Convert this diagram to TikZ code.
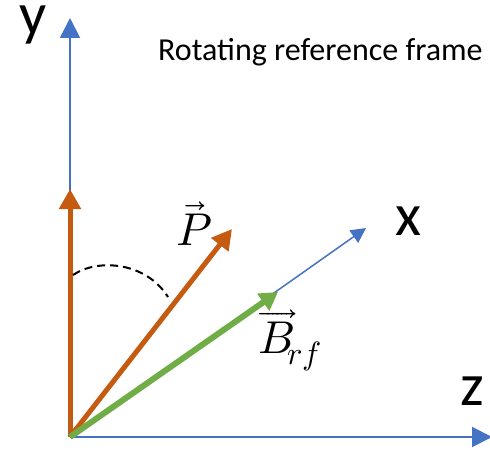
\documentclass[tikz,border=0pt]{standalone}
\usepackage{fontspec}
\usepackage{unicode-math}
\setmainfont{Carlito}
\setmathfont{Latin Modern Math}
\usetikzlibrary{arrows.meta}
\definecolor{axisblue}{RGB}{68,114,196}
\definecolor{vecorange}{RGB}{197,90,17}
\definecolor{vecgreen}{RGB}{112,173,71}
\begin{document}
\begin{tikzpicture}[x=1pt,y=1pt,
  axis/.style={draw=axisblue, line width=2pt, -{Triangle[length=20pt,width=20pt]}, color=axisblue},
  xaxis/.style={draw=axisblue, line width=1.5pt, -{Triangle[length=15pt,width=15pt]}, color=axisblue},
  orangevec/.style={draw=vecorange, line width=5pt, -{Triangle[length=20pt,width=21pt]}, color=vecorange},
  greenvec/.style={draw=vecgreen, line width=6pt, -{Triangle[length=18pt,width=20pt]}, color=vecgreen},
  axislabel/.style={font=\fontsize{60}{62}\selectfont, text=black, inner sep=0pt, text height=0.47em, text depth=0.22em},
  veclabel/.style={font=\fontsize{46}{48}\selectfont, text=black, inner sep=0pt},
  anglearc/.style={draw=black, line width=2pt, dash pattern=on 8pt off 5pt}]
\useasboundingbox (0,0) rectangle (490,451);
\coordinate (O) at (70,14);
\coordinate (ytip) at (70,433);
\coordinate (ztip) at (492,14);
\coordinate (xtip) at (366,223);
\coordinate (vtip) at (70,262);
\coordinate (ptip) at (232,222);
\coordinate (btip) at (278,159);
\coordinate (arcA) at (73,176);
\coordinate (arcB) at (168,154);
\draw[axis] (O) -- (ytip);
\draw[axis] (O) -- (ztip);
\draw[xaxis] (O) -- (xtip);
\draw[orangevec] (O) -- (vtip);
\draw[orangevec] (O) -- (ptip);
\draw[greenvec] (O) -- (btip);
\draw[anglearc] (arcA) .. controls (98,193) and (146,189) .. (arcB);
\node[axislabel, anchor=base] (ylab) at (33,416) {y};
\node[axislabel, anchor=base] (xlab) at (408,216) {x};
\node[axislabel, anchor=base] (zlab) at (472,46) {z};
\node[veclabel, anchor=base west] (plab) at (176,206) {$\vec{P}$};
\node[veclabel, anchor=base west] (blab) at (258,98) {$\overrightarrow{B}_{\!rf}$};
\node[font=\fontsize{32}{34}\selectfont, anchor=base west, inner sep=0pt] (title) at (158,391) {Rotating reference frame};
\end{tikzpicture}
\end{document}
